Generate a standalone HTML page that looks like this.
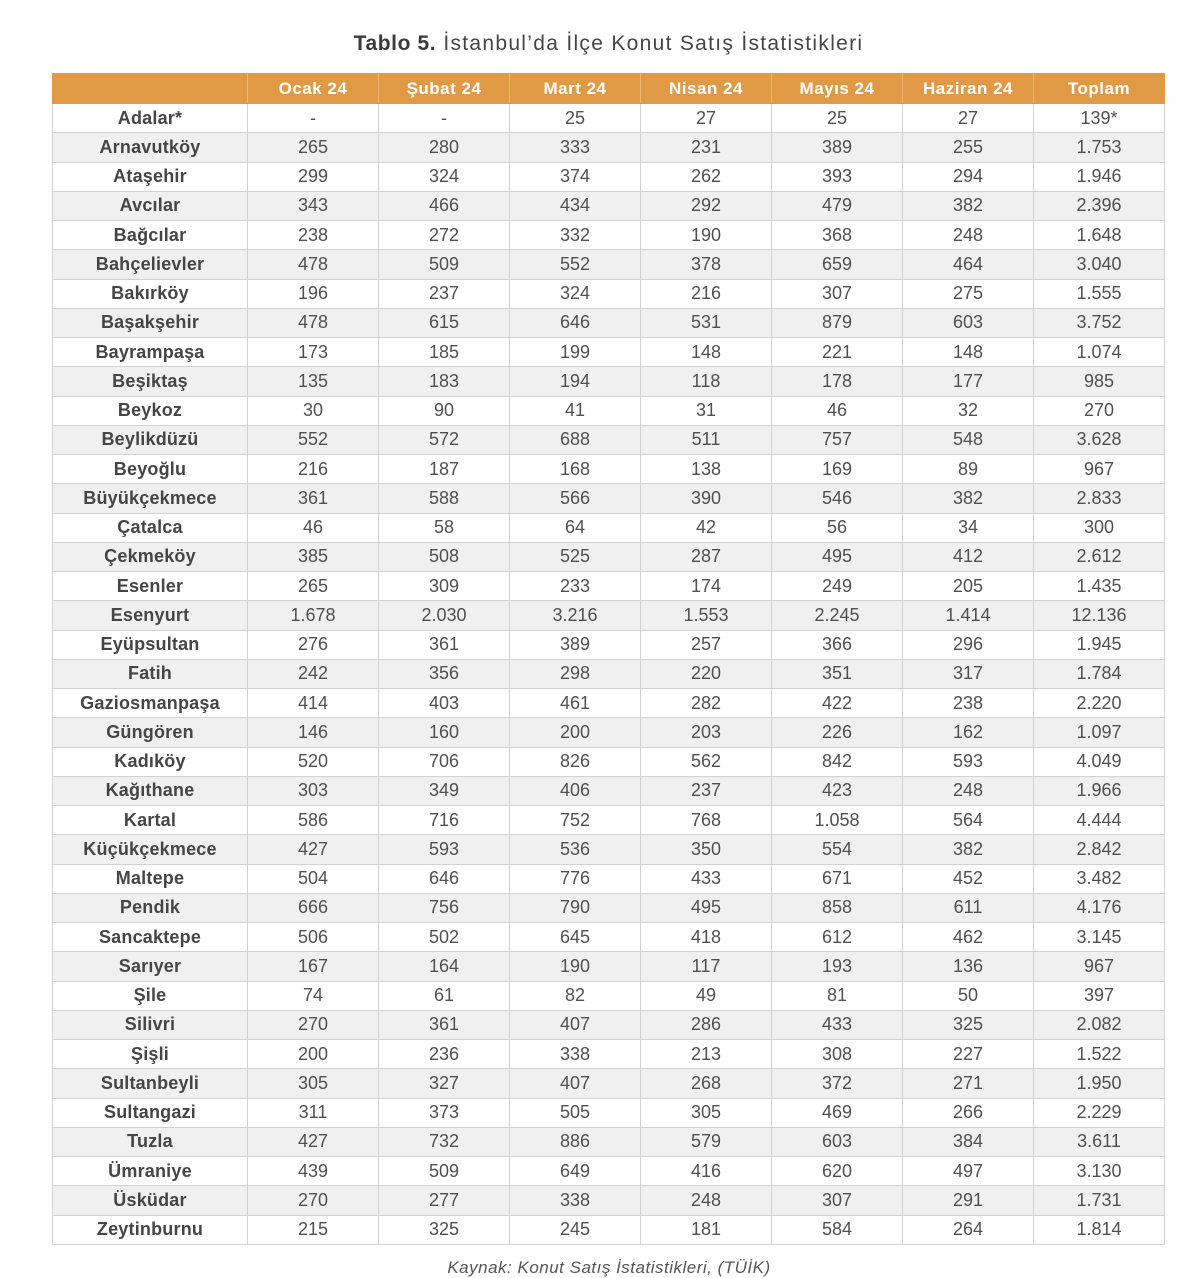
<!DOCTYPE html>
<html><head><meta charset="utf-8">
<style>
html,body{margin:0;padding:0;background:#fff;}
body{width:1200px;height:1277px;position:relative;overflow:hidden;font-family:"Liberation Sans",sans-serif;color:#4a4a4a;}
.title{position:absolute;left:0;width:1217px;top:32px;text-align:center;font-size:21px;color:#454545;letter-spacing:1.3px;}
.title b{font-weight:bold;color:#3a3a3a;letter-spacing:0.6px;}
table{position:absolute;left:52px;top:73px;width:1112px;border-collapse:collapse;table-layout:fixed;}
td,th{padding:0;text-align:center;border:1px solid #d2d2d2;font-size:18px;white-space:nowrap;overflow:hidden;}
th{background:#e09a45;color:#fff;font-weight:bold;font-size:17px;letter-spacing:0.5px;height:29px;border-color:#e09a45;border-left:1px solid #eab77a;border-right:1px solid #eab77a;}
th:first-child{border-left-color:#e09a45;}
th:last-child{border-right-color:#e09a45;}
td{height:28.26px;color:#505050;}
td:first-child{font-weight:bold;color:#454545;letter-spacing:0.2px;}
tr:nth-child(even) td{background:#f0f0f0;}
.src{position:absolute;left:0;width:1218px;top:1258px;text-align:center;font-size:17px;letter-spacing:0.5px;font-style:italic;color:#555;}
</style></head><body>
<div class="title"><b>Tablo 5.</b> İstanbul’da İlçe Konut Satış İstatistikleri</div>
<table>
<colgroup><col style="width:195px"><col style="width:131px"><col style="width:131px"><col style="width:131px"><col style="width:131px"><col style="width:131px"><col style="width:131px"><col style="width:131px"></colgroup>
<thead><tr><th></th><th>Ocak 24</th><th>Şubat 24</th><th>Mart 24</th><th>Nisan 24</th><th>Mayıs 24</th><th>Haziran 24</th><th>Toplam</th></tr></thead>
<tbody>
<tr><td>Adalar*</td><td>-</td><td>-</td><td>25</td><td>27</td><td>25</td><td>27</td><td>139*</td></tr>
<tr><td>Arnavutköy</td><td>265</td><td>280</td><td>333</td><td>231</td><td>389</td><td>255</td><td>1.753</td></tr>
<tr><td>Ataşehir</td><td>299</td><td>324</td><td>374</td><td>262</td><td>393</td><td>294</td><td>1.946</td></tr>
<tr><td>Avcılar</td><td>343</td><td>466</td><td>434</td><td>292</td><td>479</td><td>382</td><td>2.396</td></tr>
<tr><td>Bağcılar</td><td>238</td><td>272</td><td>332</td><td>190</td><td>368</td><td>248</td><td>1.648</td></tr>
<tr><td>Bahçelievler</td><td>478</td><td>509</td><td>552</td><td>378</td><td>659</td><td>464</td><td>3.040</td></tr>
<tr><td>Bakırköy</td><td>196</td><td>237</td><td>324</td><td>216</td><td>307</td><td>275</td><td>1.555</td></tr>
<tr><td>Başakşehir</td><td>478</td><td>615</td><td>646</td><td>531</td><td>879</td><td>603</td><td>3.752</td></tr>
<tr><td>Bayrampaşa</td><td>173</td><td>185</td><td>199</td><td>148</td><td>221</td><td>148</td><td>1.074</td></tr>
<tr><td>Beşiktaş</td><td>135</td><td>183</td><td>194</td><td>118</td><td>178</td><td>177</td><td>985</td></tr>
<tr><td>Beykoz</td><td>30</td><td>90</td><td>41</td><td>31</td><td>46</td><td>32</td><td>270</td></tr>
<tr><td>Beylikdüzü</td><td>552</td><td>572</td><td>688</td><td>511</td><td>757</td><td>548</td><td>3.628</td></tr>
<tr><td>Beyoğlu</td><td>216</td><td>187</td><td>168</td><td>138</td><td>169</td><td>89</td><td>967</td></tr>
<tr><td>Büyükçekmece</td><td>361</td><td>588</td><td>566</td><td>390</td><td>546</td><td>382</td><td>2.833</td></tr>
<tr><td>Çatalca</td><td>46</td><td>58</td><td>64</td><td>42</td><td>56</td><td>34</td><td>300</td></tr>
<tr><td>Çekmeköy</td><td>385</td><td>508</td><td>525</td><td>287</td><td>495</td><td>412</td><td>2.612</td></tr>
<tr><td>Esenler</td><td>265</td><td>309</td><td>233</td><td>174</td><td>249</td><td>205</td><td>1.435</td></tr>
<tr><td>Esenyurt</td><td>1.678</td><td>2.030</td><td>3.216</td><td>1.553</td><td>2.245</td><td>1.414</td><td>12.136</td></tr>
<tr><td>Eyüpsultan</td><td>276</td><td>361</td><td>389</td><td>257</td><td>366</td><td>296</td><td>1.945</td></tr>
<tr><td>Fatih</td><td>242</td><td>356</td><td>298</td><td>220</td><td>351</td><td>317</td><td>1.784</td></tr>
<tr><td>Gaziosmanpaşa</td><td>414</td><td>403</td><td>461</td><td>282</td><td>422</td><td>238</td><td>2.220</td></tr>
<tr><td>Güngören</td><td>146</td><td>160</td><td>200</td><td>203</td><td>226</td><td>162</td><td>1.097</td></tr>
<tr><td>Kadıköy</td><td>520</td><td>706</td><td>826</td><td>562</td><td>842</td><td>593</td><td>4.049</td></tr>
<tr><td>Kağıthane</td><td>303</td><td>349</td><td>406</td><td>237</td><td>423</td><td>248</td><td>1.966</td></tr>
<tr><td>Kartal</td><td>586</td><td>716</td><td>752</td><td>768</td><td>1.058</td><td>564</td><td>4.444</td></tr>
<tr><td>Küçükçekmece</td><td>427</td><td>593</td><td>536</td><td>350</td><td>554</td><td>382</td><td>2.842</td></tr>
<tr><td>Maltepe</td><td>504</td><td>646</td><td>776</td><td>433</td><td>671</td><td>452</td><td>3.482</td></tr>
<tr><td>Pendik</td><td>666</td><td>756</td><td>790</td><td>495</td><td>858</td><td>611</td><td>4.176</td></tr>
<tr><td>Sancaktepe</td><td>506</td><td>502</td><td>645</td><td>418</td><td>612</td><td>462</td><td>3.145</td></tr>
<tr><td>Sarıyer</td><td>167</td><td>164</td><td>190</td><td>117</td><td>193</td><td>136</td><td>967</td></tr>
<tr><td>Şile</td><td>74</td><td>61</td><td>82</td><td>49</td><td>81</td><td>50</td><td>397</td></tr>
<tr><td>Silivri</td><td>270</td><td>361</td><td>407</td><td>286</td><td>433</td><td>325</td><td>2.082</td></tr>
<tr><td>Şişli</td><td>200</td><td>236</td><td>338</td><td>213</td><td>308</td><td>227</td><td>1.522</td></tr>
<tr><td>Sultanbeyli</td><td>305</td><td>327</td><td>407</td><td>268</td><td>372</td><td>271</td><td>1.950</td></tr>
<tr><td>Sultangazi</td><td>311</td><td>373</td><td>505</td><td>305</td><td>469</td><td>266</td><td>2.229</td></tr>
<tr><td>Tuzla</td><td>427</td><td>732</td><td>886</td><td>579</td><td>603</td><td>384</td><td>3.611</td></tr>
<tr><td>Ümraniye</td><td>439</td><td>509</td><td>649</td><td>416</td><td>620</td><td>497</td><td>3.130</td></tr>
<tr><td>Üsküdar</td><td>270</td><td>277</td><td>338</td><td>248</td><td>307</td><td>291</td><td>1.731</td></tr>
<tr><td>Zeytinburnu</td><td>215</td><td>325</td><td>245</td><td>181</td><td>584</td><td>264</td><td>1.814</td></tr>
</tbody></table>
<div class="src">Kaynak: Konut Satış İstatistikleri, (TÜİK)</div>
</body></html>
